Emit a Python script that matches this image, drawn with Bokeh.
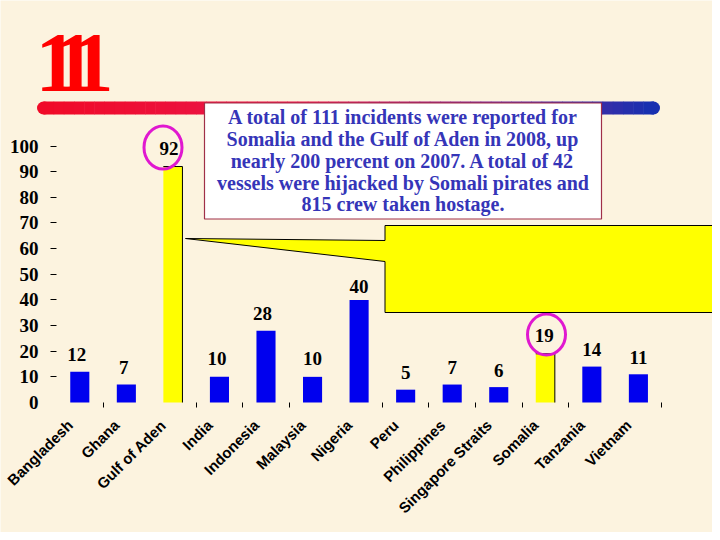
import math
from bokeh.core.properties import value
from bokeh.embed import file_html
from bokeh.resources import INLINE
from bokeh.plotting import figure
from bokeh.models import ColumnDataSource, Range1d, LinearAxis, FixedTicker

categories = ["Bangladesh", "Ghana", "Gulf of Aden", "India", "Indonesia", "Malaysia", "Nigeria",
              "Peru", "Philippines", "Singapore Straits", "Somalia", "Tanzania", "Vietnam"]
values = [12, 7, 92, 10, 28, 10, 40, 5, 7, 6, 19, 14, 11]
highlighted = ["Gulf of Aden", "Somalia"]
y_ticks = [0, 10, 20, 30, 40, 50, 60, 70, 80, 90, 100]
boundary_ticks = [0.5, 2.5, 3.5, 4.5, 6.5, 7.5, 8.5, 9.5, 10.5, 12.5]
title_digits = ["1", "1", "1"]
note_lines = ["A total of 111 incidents were reported for",
              "Somalia and the Gulf of Aden in 2008, up",
              "nearly 200 percent on 2007. A total of 42",
              "vessels were hijacked by Somali pirates and",
              "815 crew taken hostage."]

W, H = 712, 532
X0, XSTEP = 79.3, 46.55     # x of first bar, px per category
Y0, YSTEP = 402.0, 2.565    # y of zero, px per unit


def xd(px):
    return (px - X0) / XSTEP


def yd(py):
    return (Y0 - py) / YSTEP


BG = "#FCF3DF"
SERIF = value("Liberation Serif")
p = figure(width=W, height=H, output_backend="svg", toolbar_location=None,
           x_range=Range1d(xd(0), xd(W)), y_range=Range1d(yd(H), yd(0)),
           x_axis_location=None, y_axis_location=None, min_border=0,
           background_fill_color=BG, border_fill_color=BG, outline_line_color=None)
p.grid.visible = False

# gradient rule behind the note box
n = 60
x1, x2 = 43.0, 653.0
stops = [(0.0, (240, 10, 40)), (0.45, (232, 24, 80)), (0.75, (120, 40, 150)), (1.0, (24, 48, 176))]


def grad(t):
    for (a, ca), (b, cb) in zip(stops, stops[1:]):
        if t <= b:
            f = (t - a) / (b - a)
            return "#%02x%02x%02x" % tuple(round(u + (v - u) * f) for u, v in zip(ca, cb))
    return "#1830b0"


p.segment([xd(x1), xd(x2)], [yd(107.5)] * 2, [xd(x1 + 1), xd(x2 - 1)], [yd(107.5)] * 2,
          line_width=13, line_cap="round", line_color=[grad(0), grad(1)])
xs = [x1 + (x2 - x1) * i / n for i in range(n + 1)]
p.segment([xd(a) for a in xs[:-1]], [yd(107.5)] * n, [xd(a + 0.5) for a in xs[1:]], [yd(107.5)] * n,
          line_width=13, line_cap="butt", line_color=[grad(i / (n - 1)) for i in range(n)])

# title
for k, d in enumerate(title_digits):
    p.text([xd(56 + 18 * k)], [yd(62.5)], text=[d], text_font=SERIF, text_font_style="bold",
           text_font_size="84px", text_color="#FF0000", text_align="center", text_baseline="middle")

# bars
idx = list(range(len(categories)))
plain = [i for i in idx if categories[i] not in highlighted]
hi = [i for i in idx if categories[i] in highlighted]
BAR_W = 0.41
p.vbar(x=plain, top=[values[i] for i in plain], width=BAR_W, bottom=0, fill_color="#0000EE", line_color=None)
p.vbar(x=hi, top=[values[i] for i in hi], width=BAR_W, bottom=0, fill_color="#FFFF00", line_color=None)
p.segment([i + BAR_W / 2 for i in hi], [0] * len(hi), [i + BAR_W / 2 for i in hi], [values[i] for i in hi],
          line_color="black", line_width=1)
p.segment([i - BAR_W / 2 for i in hi], [values[i] for i in hi], [i + BAR_W / 2 for i in hi], [values[i] for i in hi],
          line_color="black", line_width=1)

# value labels (hand-placed in the original, so each has its own nudge in px)
nudge_x = [-3, -2.5, -4, -2.5, -3.5, 0, 0, 0, 0, 0, -1, 0, 0]
nudge_y = [-17, -17, -18, -18, -17, -18, -13, -17, -17, -17, -18, -17, -17]
labels = ColumnDataSource(dict(x=idx, y=values, t=[str(v) for v in values], dx=nudge_x, dy=nudge_y))
p.text("x", "y", text="t", x_offset="dx", y_offset="dy", source=labels,
       text_font=SERIF, text_font_style="bold", text_font_size="19px",
       text_color="black", text_align="center", text_baseline="middle")

# highlight rings
p.ellipse([xd(162.5), xd(546)], [yd(147), yd(334)], width=[38, 38], height=[43, 41],
          width_units="screen", height_units="screen",
          fill_color=None, line_color="#E018D0", line_width=3)

# callout
call_x = [185, 384.5, 384.5, 720, 720, 384.5, 384.5]
call_y = [238, 240, 225, 225, 312, 312, 261]
p.patch([xd(a) for a in call_x], [yd(b) for b in call_y], fill_color="#FFFF00", line_color="black", line_width=1)

# note box
p.quad(left=xd(204), right=xd(601), top=yd(102.5), bottom=yd(218.5), fill_color="white",
       line_color="#A03048", line_width=1.2)
note_y = [116.7, 138.6, 160.3, 182, 203.5]
p.text([xd(402.5)] * 5, [yd(v) for v in note_y], text=note_lines, text_font=SERIF,
       text_font_style="bold", text_font_size="20px", text_color="#3535B8", text_align="center",
       text_baseline="middle")

# axes
label_style = dict(axis_line_color=None, major_tick_line_color=None, major_tick_in=0, major_tick_out=0,
                   minor_tick_line_color="black", minor_tick_in=0)
yax = LinearAxis(fixed_location=xd(56),
                 ticker=FixedTicker(ticks=y_ticks, minor_ticks=y_ticks[1:]), minor_tick_out=6,
                 major_label_standoff=12, major_label_text_font="Liberation Serif",
                 major_label_text_font_style="bold", major_label_text_font_size="19px",
                 major_label_text_color="black", **label_style)
p.add_layout(yax, "left")
LABEL_SHIFT = 0.21
xax = LinearAxis(fixed_location=0,
                 ticker=FixedTicker(ticks=[i - LABEL_SHIFT for i in idx], minor_ticks=boundary_ticks),
                 minor_tick_out=5,
                 major_label_overrides={i - LABEL_SHIFT: c for i, c in enumerate(categories)},
                 major_label_orientation=math.pi / 4, major_label_standoff=15,
                 major_label_text_font="Liberation Sans", major_label_text_font_style="bold",
                 major_label_text_font_size="15px", major_label_text_color="black", **label_style)
p.add_layout(xax, "below")

open("out.html", "w").write(file_html(p, INLINE))
